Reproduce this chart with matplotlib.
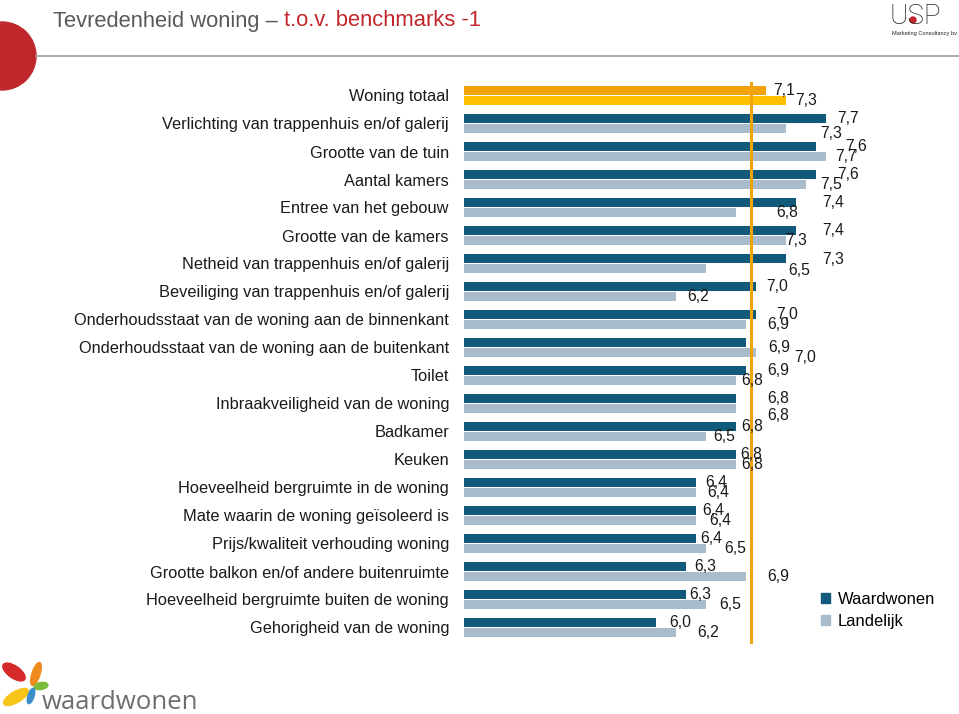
import numpy as np
import matplotlib
matplotlib.use("Agg")
import matplotlib.pyplot as plt
import matplotlib.patches as mpatches

plt.rcParams['font.family'] = ['Liberation Sans', 'DejaVu Sans']

# data
categories = ["Woning totaal",
              "Verlichting van trappenhuis en/of galerij",
              "Grootte van de tuin",
              "Aantal kamers",
              "Entree van het gebouw",
              "Grootte van de kamers",
              "Netheid van trappenhuis en/of galerij",
              "Beveiliging van trappenhuis en/of galerij",
              "Onderhoudsstaat van de woning aan de binnenkant",
              "Onderhoudsstaat van de woning aan de buitenkant",
              "Toilet",
              "Inbraakveiligheid van de woning",
              "Badkamer",
              "Keuken",
              "Hoeveelheid bergruimte in de woning",
              "Mate waarin de woning geïsoleerd is",
              "Prijs/kwaliteit verhouding woning",
              "Grootte balkon en/of andere buitenruimte",
              "Hoeveelheid bergruimte buiten de woning",
              "Gehorigheid van de woning"]
waardwonen = [7.1, 7.7, 7.6, 7.6, 7.4, 7.4, 7.3, 7.0, 7.0, 6.9,
              6.9, 6.8, 6.8, 6.8, 6.4, 6.4, 6.4, 6.3, 6.3, 6.0]
landelijk = [7.3, 7.3, 7.7, 7.5, 6.8, 7.3, 6.5, 6.2, 6.9, 7.0,
             6.8, 6.8, 6.5, 6.8, 6.4, 6.4, 6.5, 6.9, 6.5, 6.2]
ref_line = 6.95

# label shifts (pixels) as in the original slide
dx_w = [7, 11, 29, 21, 26, 26, 36, 10, 20, 22, 21, 31, 5, 4, 9, 6, 4, 8, 3, 13]
dx_l = [9, 34, 9, 14, 40, -1, 82, 11, 21, 38, 5, 31, 7, 5, 11, 13, 18, 21, 13, 21]
dy_w = [0, 0, 0, 0, 0, 0, 1, 0, 0, 5, 0, 0, 0, 0, 0, 0, 0, 0, 0, 0]
dy_l = [0, 5, 0, 0, 0, 0, 2, 0, 0, 5, 0, 7, 0, 0, 0, 0, 0, 0, 0, 0]

W, H = 959, 714
fig = plt.figure(figsize=(W / 100, H / 100), dpi=100)

# background layer in pixel coordinates
bg = fig.add_axes([0, 0, 1, 1])
bg.set_xlim(0, W)
bg.set_ylim(H, 0)
bg.axis('off')

xmin = 4.08
left, right = 464, 880
top_px, bot_px = 81.5, 644.3
ax = fig.add_axes([left / W, 1 - bot_px / H, (right - left) / W, (bot_px - top_px) / H])
ax.set_xlim(xmin, xmin + (right - left) / 100)
ax.set_ylim(19.6, -0.5)
ax.patch.set_alpha(0)

y = np.arange(len(categories))
col_w = ['#115a7b'] * len(categories)
col_l = ['#a9bccb'] * len(categories)
col_w[0] = '#f0a30a'
col_l[0] = '#ffc000'

h = 0.32
ax.barh(y - 0.19, np.array(waardwonen) - xmin, left=xmin, height=h, color=col_w)
ax.barh(y + 0.19, np.array(landelijk) - xmin, left=xmin, height=h, color=col_l)
ax.axvline(ref_line, color='#f0a30a', lw=2.2, zorder=3)

row_px = (bot_px - top_px) / 20.1
for i in range(len(categories)):
    ax.text(waardwonen[i] + dx_w[i] / 100, i - 0.19 + dy_w[i] / row_px,
            f"{waardwonen[i]:.1f}".replace('.', ','),
            ha='left', va='center', fontsize=11.3, color='#1a1a1a')
    ax.text(landelijk[i] + dx_l[i] / 100, i + 0.19 + dy_l[i] / row_px,
            f"{landelijk[i]:.1f}".replace('.', ','),
            ha='left', va='center', fontsize=11.3, color='#1a1a1a')

ax.set_yticks(y)
ax.set_yticklabels(categories, fontsize=11.8, color='#1a1a1a')
ax.tick_params(axis='y', length=0, pad=10.8)
ax.set_xticks([])
for s in ax.spines.values():
    s.set_visible(False)

# legend
hw = mpatches.Patch(color='#115a7b', label='Waardwonen')
hl = mpatches.Patch(color='#a9bccb', label='Landelijk')
fig.legend(handles=[hw, hl], loc='upper left', bbox_to_anchor=(821 / W, 1 - 592 / H),
           bbox_transform=fig.transFigure, frameon=False, fontsize=11.9,
           handlelength=0.55, handleheight=0.55, handletextpad=0.45,
           labelspacing=0.42, borderaxespad=0, borderpad=0)

# header
bg.add_patch(mpatches.Circle((2, 56), 34, color='#c0272d'))
bg.plot([36, W], [56, 56], color='#a6a6a6', lw=1.3)
t1 = bg.text(53, 21, "Tevredenheid woning – ", fontsize=15.8,
             color='#595959', va='center', ha='left')
fig.canvas.draw()
bb = t1.get_window_extent()
fig.text(bb.x1 / W, 1 - 21 / H, "t.o.v. benchmarks -1", fontsize=15.8,
         color='#c0272d', va='center', ha='left')

bg.text(915, 24, "USP", fontsize=20, color='#222222', ha='center', va='baseline',
        family=['Roboto', 'DejaVu Sans'], weight='light')
bg.add_patch(mpatches.Circle((913, 20), 3, color='#c0272d'))
bg.text(924, 34, "Marketing Consultancy bv", fontsize=4.1,
        color='#222222', ha='center', va='center')

# waardwonen logo
petals = [((14, 672), 26, 12, 35, '#d42a2a'),
          ((36, 674), 24, 8, -72, '#f08a1c'),
          ((41, 686), 14, 7, -10, '#7cba3c'),
          ((16, 697), 28, 11, -30, '#f6c518'),
          ((31, 696), 16, 6, -72, '#3a8fc9')]
for (cx, cy), pw, ph, ang, c in petals:
    bg.add_patch(mpatches.Ellipse((cx, cy), pw, ph, angle=ang, color=c))
bg.text(42, 709, "waardwonen", fontsize=18.5, color='#6d6e71',
        family=['Open Sans', 'DejaVu Sans'], ha='left', va='baseline')

fig.savefig("out.png", dpi=100)
